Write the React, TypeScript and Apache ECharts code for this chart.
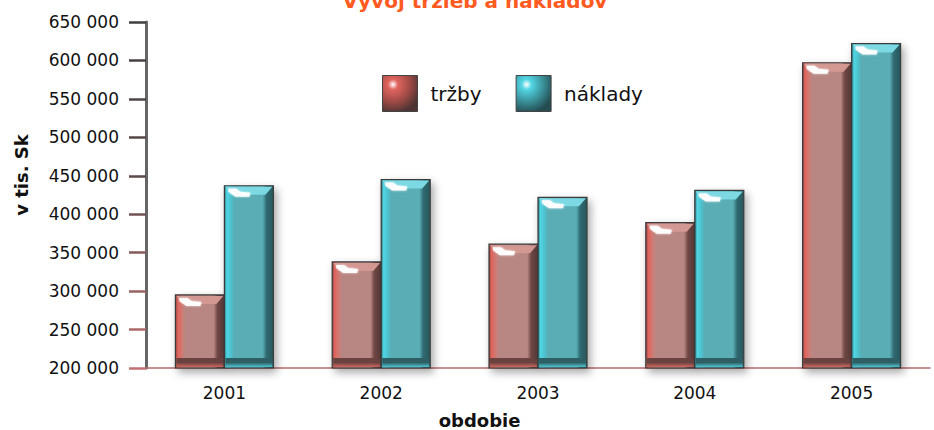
import React, { useEffect, useRef } from "react";
import * as echarts from "echarts";

const years = ["2001", "2002", "2003", "2004", "2005"];
const trzby = [295000, 338000, 361000, 389000, 597000];
const naklady = [437000, 445000, 422000, 431000, 622000];
const Y_MIN = 200000;
const Y_MAX = 650000;
const Y_STEP = 50000;

const TITLE = "Vývoj tržieb a nákladov";
const Y_NAME = "v tis. Sk";
const X_NAME = "obdobie";
const FONT = "DejaVu Sans";

type Pal = {
  edge: string[];
  face: string;
  topBevel: string;
  bottomDark: string;
  bottomLight: string;
};

const redPal: Pal = {
  edge: ["#8e4440", "#e0645d", "#cf7b75", "#b98783", "#b98783", "#6e4744", "#5a3b39"],
  face: "#b98783",
  topBevel: "#d49893",
  bottomDark: "#6a4341",
  bottomLight: "#d0675f",
};
const cyanPal: Pal = {
  edge: ["#2c7880", "#52d6e4", "#4cc0cc", "#5aadb5", "#5aadb5", "#2f6a71", "#28565c"],
  face: "#5aadb5",
  topBevel: "#7cd8e2",
  bottomDark: "#2d5f65",
  bottomLight: "#4fc5d2",
};

function makeRender(side: "left" | "right", pal: Pal) {
  return (params: any, api: any) => {
    const idx = api.value(0);
    const val = api.value(1);
    const top = api.coord([idx, val]);
    const base = api.coord([idx, Y_MIN]);
    const band = api.size([1, 0])[0];
    const w = Math.round(band * 0.31);
    const x = side === "left" ? top[0] - w : top[0];
    const y = top[1];
    const h = base[1] - top[1];
    const stops = [0, 0.05, 0.14, 0.2, 0.78, 0.86, 1];
    const grad = new echarts.graphic.LinearGradient(
      0, 0, 1, 0,
      stops.map((o, i) => ({ offset: o, color: pal.edge[i] }))
    );
    const children: any[] = [
      {
        type: "rect",
        shape: { x, y, width: w, height: h },
        style: {
          fill: grad,
          stroke: "#3a3a3a",
          lineWidth: 1.2,
          shadowBlur: 8,
          shadowColor: "rgba(0,0,0,0.35)",
          shadowOffsetX: 3,
          shadowOffsetY: 4,
        },
      },
      {
        type: "polygon",
        shape: {
          points: [
            [x + 1, y + 1],
            [x + w - 1, y + 1],
            [x + w - 8, y + 9],
            [x + 7, y + 9],
          ],
        },
        style: { fill: pal.topBevel },
      },
      {
        type: "rect",
        shape: { x: x + 1, y: y + h - 10, width: w - 2, height: 9 },
        style: {
          fill: new echarts.graphic.LinearGradient(0, 0, 0, 1, [
            { offset: 0, color: pal.bottomDark },
            { offset: 0.5, color: pal.bottomDark },
            { offset: 1, color: pal.bottomLight },
          ]),
        },
      },
      {
        type: "polygon",
        shape: {
          points: [
            [x + 4, y + 3],
            [x + 12, y + 3],
            [x + 16, y + 6],
            [x + 26, y + 7],
            [x + 25, y + 11],
            [x + 11, y + 11],
            [x + 4, y + 6],
          ],
        },
        style: { fill: "rgba(255,255,255,0.92)", shadowBlur: 2, shadowColor: "rgba(255,255,255,0.8)" },
      },
    ];
    return { type: "group", children };
  };
}

function legendIcon(c1: string, c2: string, c3: string) {
  return new echarts.graphic.RadialGradient(0.3, 0.25, 0.8, [
    { offset: 0, color: "#ffffff" },
    { offset: 0.18, color: c1 },
    { offset: 0.6, color: c2 },
    { offset: 1, color: c3 },
  ]);
}

export default function App() {
  const ref = useRef<HTMLDivElement>(null);
  useEffect(() => {
    document.body.style.margin = "0";
    const chart = echarts.init(ref.current!, undefined, { renderer: "svg" });
    chart.setOption({
      animation: false,
      backgroundColor: "#ffffff",
      grid: { left: 146, right: 4, top: 22, bottom: 62, containLabel: false },
      legend: {
        left: 377,
        top: 70,
        itemWidth: 35,
        itemHeight: 36,
        itemGap: 34,
        textStyle: { fontFamily: FONT, fontSize: 20, color: "#111", padding: [0, 0, 0, 8] },
        data: [
          {
            name: "tržby",
            icon: "rect",
            itemStyle: { color: legendIcon("#e0645d", "#a04a46", "#4e3533"), borderColor: "#444", borderWidth: 1 },
          },
          {
            name: "náklady",
            icon: "rect",
            itemStyle: { color: legendIcon("#52d6e4", "#3a8f98", "#244c51"), borderColor: "#444", borderWidth: 1 },
          },
        ],
      },
      xAxis: {
        type: "category",
        data: years,
        axisLine: { lineStyle: { color: "#b86a6a", width: 1.5 } },
        axisTick: { show: false },
        axisLabel: { fontFamily: FONT, fontSize: 17, color: "#111", margin: 16 },
        splitLine: { show: false },
      },
      yAxis: {
        type: "value",
        min: Y_MIN,
        max: Y_MAX,
        interval: Y_STEP,
        axisLine: { show: true, lineStyle: { color: "#666666", width: 3 } },
        axisTick: {
          show: true,
          length: 17,
          lineStyle: {
            width: 2.5,
            color: new echarts.graphic.LinearGradient(0, 22, 0, 368, [
              { offset: 0, color: "#3f3f3f" },
              { offset: 0.45, color: "#5e4a4a" },
              { offset: 1, color: "#c07070" },
            ], true),
          },
        },
        splitLine: { show: false },
        axisLabel: {
          fontFamily: FONT,
          fontSize: 17,
          color: "#111",
          margin: 27,
          formatter: (v: number) => String(v).replace(/\B(?=(\d{3})+(?!\d))/g, " "),
        },
      },
      graphic: [
        {
          type: "text",
          x: 475,
          y: 1,
          style: {
            text: TITLE,
            fill: "#ff5a1f",
            font: `bold 20px "${FONT}"`,
            align: "center",
            verticalAlign: "middle",
          },
        },
        {
          type: "text",
          x: 21.5,
          y: 175,
          rotation: Math.PI / 2,
          style: {
            text: Y_NAME,
            fill: "#111",
            font: `bold 18px "${FONT}"`,
            align: "center",
            verticalAlign: "middle",
          },
        },
        {
          type: "text",
          x: 479.5,
          y: 420,
          style: {
            text: X_NAME,
            fill: "#111",
            font: `bold 18px "${FONT}"`,
            align: "center",
            verticalAlign: "middle",
          },
        },
      ],
      series: [
        {
          name: "tržby",
          type: "custom",
          renderItem: makeRender("left", redPal),
          itemStyle: { color: "#b98783" },
          encode: { x: 0, y: 1 },
          data: trzby.map((v, i) => [i, v]),
        },
        {
          name: "náklady",
          type: "custom",
          renderItem: makeRender("right", cyanPal),
          itemStyle: { color: "#5aadb5" },
          encode: { x: 0, y: 1 },
          data: naklady.map((v, i) => [i, v]),
        },
      ],
    });
    return () => chart.dispose();
  }, []);
  return <div ref={ref} style={{ width: 934, height: 430 }} />;
}
